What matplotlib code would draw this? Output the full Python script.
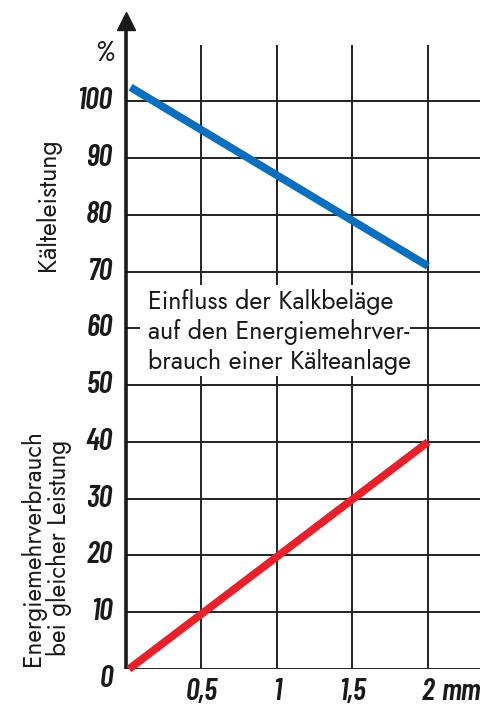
import matplotlib
matplotlib.use("Agg")
import matplotlib.pyplot as plt
from matplotlib.patches import Rectangle

# Data
thickness_blue = [0.03, 2.0]
kaelteleistung = [102.5, 71.0]
thickness_red = [0.02, 2.0]
energiemehr = [0.0, 40.0]

x_ticks = [0.5, 1.0, 1.5, 2.0]
x_tick_labels = ["0,5", "1", "1,5", "2"]
y_ticks = [10, 20, 30, 40, 50, 60, 70, 80, 90, 100]
y_tick_labels = [str(v) for v in y_ticks]

W, H = 481, 709
fig = plt.figure(figsize=(W / 100, H / 100), dpi=100)
left_px, right_px, bottom_px, top_px = 126, 481, 669, 5
ax = fig.add_axes([left_px / W, 1 - bottom_px / H, (right_px - left_px) / W, (bottom_px - top_px) / H])
ax.set_xlim(0, 2.351)
ax.set_ylim(0, 117)
ax.axis("off")

tick_font = dict(family=["Barlow Condensed", "DejaVu Sans"], style="italic", weight=600, color="#1a1a1a")
text_font = dict(family=["Jost", "DejaVu Sans"], color="#1a1a1a")

grid_c = "#222222"
# grid
ax.vlines(x_ticks, 0, 110, color=grid_c, lw=1.4, zorder=1)
ax.hlines(y_ticks, 0, 2.351, color=grid_c, lw=1.4, zorder=1)
ax.hlines([0], 0, 2.351, color=grid_c, lw=1.4, zorder=1)

# y-axis with arrow
ax.plot([0, 0], [0, 113], color="#1a1a1a", lw=2.6, solid_capstyle="butt", clip_on=False, zorder=4)
ax.plot([0], [114.2], marker="^", markersize=13, color="#1a1a1a", clip_on=False, zorder=4)

# text box
ax.add_patch(Rectangle((0.093, 51.6), 1.787, 67.6 - 51.6, facecolor="white", edgecolor="none", zorder=2))
ax.text(0.145, 59.4, "Einfluss der Kalkbeläge\nauf den Energiemehrver-\nbrauch einer Kälteanlage",
        ha="left", va="center", multialignment="left", fontsize=18, linespacing=1.2,
        zorder=3, **text_font)

# data lines
ax.plot(thickness_blue, kaelteleistung, color="#0a6fbe", lw=5.6, solid_capstyle="butt", zorder=5, clip_on=False)
ax.plot(thickness_red, energiemehr, color="#e8202a", lw=5.6, solid_capstyle="butt", zorder=5, clip_on=False)

# tick labels
for v, lab in zip(y_ticks, y_tick_labels):
    ax.text(-0.09, v, lab, ha="right", va="center", fontsize=22, clip_on=False, **tick_font)
ax.text(-0.13, -1.8, "0", ha="center", va="center", fontsize=22, clip_on=False, **tick_font)
ax.text(-0.14, 108.5, "%", ha="center", va="center", fontsize=20, clip_on=False, **tick_font)
for v, lab in zip(x_ticks, x_tick_labels):
    ax.text(v, -4.0, lab, ha="center", va="center", fontsize=22, clip_on=False, **tick_font)
ax.text(2.22, -4.0, "mm", ha="center", va="center", fontsize=22, clip_on=False, **tick_font)

# axis titles
fig.text(48 / W, 1 - 205 / H, "Kälteleistung", rotation=90, ha="center", va="center", fontsize=18, **text_font)
fig.text(46 / W, 1 - 548 / H, "Energiemehrverbrauch\nbei gleicher Leistung", rotation=90,
         ha="center", va="center", fontsize=17.5, linespacing=0.98, **text_font)

fig.savefig("out.png", dpi=100)
